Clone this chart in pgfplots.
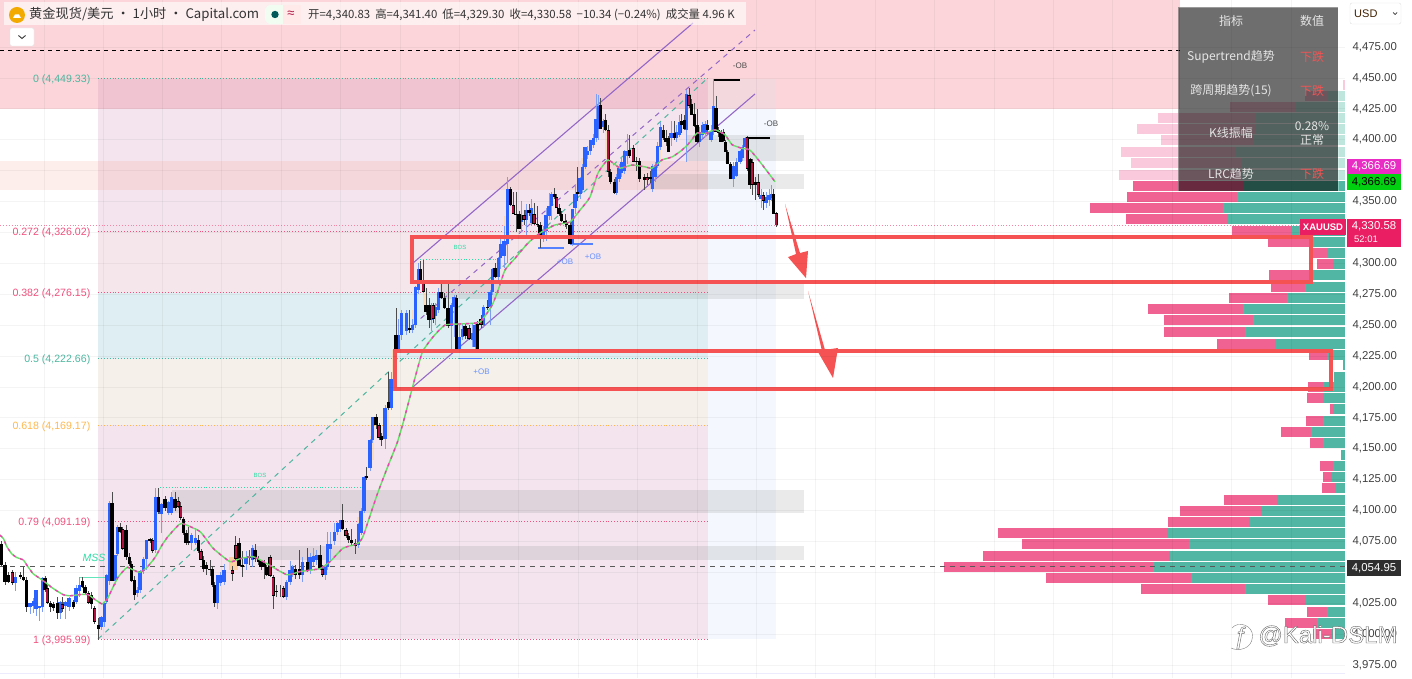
\documentclass[border=0pt]{standalone}
\usepackage{pgfplots}
\usepackage{pgfplotstable}
\usepackage{fontspec}
\pgfplotsset{compat=1.18}
\setmainfont{Liberation Sans}
\newfontfamily\cjk{Noto Sans CJK SC}
\newcommand\fs[1]{\fontsize{#1}{#1}\selectfont}
\definecolor{cBlue}{HTML}{2962FF}
\definecolor{cBlueW}{HTML}{7E9DF5}
\definecolor{cCrim}{HTML}{B0103F}
\definecolor{cTeal}{HTML}{52B6A4}
\definecolor{cPink}{HTML}{F06292}
\definecolor{cTealP}{HTML}{BFE6DD}
\definecolor{cPinkP}{HTML}{FAC9DC}
\definecolor{cRed}{HTML}{F55353}
\definecolor{cPur}{HTML}{9467C8}
\definecolor{fTeal}{HTML}{4DB6A0}
\definecolor{fPink}{HTML}{F0517E}
\definecolor{fOr}{HTML}{FFB74D}
\definecolor{cMint}{HTML}{2FDCA5}
\definecolor{zTop}{HTML}{FBD5D9}
\definecolor{zTopF}{HTML}{F0C4D0}
\definecolor{zTopR}{HTML}{F3D8DE}
\definecolor{zOrL}{HTML}{FEEEEB}
\definecolor{zOrF}{HTML}{F4D7DA}
\definecolor{zLav}{HTML}{F3E4EE}
\definecolor{zLav2}{HTML}{F5E6EC}
\definecolor{zCy}{HTML}{DFEEF2}
\definecolor{zCr}{HTML}{F5F1EA}
\definecolor{zBl}{HTML}{F4F8FE}
\definecolor{zTan}{HTML}{F9DDBD}
\definecolor{zOrB}{HTML}{FBCF9E}
\definecolor{tagMag}{HTML}{E82CC4}
\definecolor{tagRed}{HTML}{E91E63}
\definecolor{tagGrn}{HTML}{00D010}
\definecolor{maGrn}{HTML}{66E066}
\definecolor{maMag}{HTML}{F040B0}
\pgfplotstableread{
x o h l c
15.7 4041 4050 4035 4046
30 4022 4025 4016 4025
33.3 4023 4029 4017 4027
36 4020 4036 4015 4036
39.3 4021 4023 4011 4023
42.3 4022 4046 4018 4045
60 4017 4027 4012 4026
65 4023 4027 4012 4026
69 4022 4030 4019 4029
76 4026 4040 4024 4037
79.3 4035 4046 4030 4040
101 4006 4015 4003 4014
104.3 4010 4026 4006 4025
106.7 4026 4049 4024 4048
109.3 4043 4108 4040 4106
115 4043 4064 4040 4064
117.3 4065 4088 4063 4087
137.3 4033 4038 4030 4036
140 4036 4052 4033 4051
143.3 4051 4062 4049 4061
146.7 4061 4076 4052 4076
155.7 4068 4118 4066 4111
161 4097 4106 4082 4105
168.3 4098 4108 4096 4107
171.7 4098 4115 4096 4111
191.7 4074 4082 4068 4080
195.7 4074 4086 4072 4078
217.3 4025 4048 4020 4048
220.7 4041 4050 4039 4048
224 4042 4057 4040 4052
246 4057 4067 4052 4062
252.3 4060 4072 4054 4070
286.7 4030 4044 4028 4042
290 4042 4059 4040 4052
292.3 4048 4056 4046 4054
302.3 4048 4062 4042 4058
310 4052 4066 4049 4062
313.3 4058 4070 4055 4063
316.7 4060 4068 4056 4064
325 4048 4057 4044 4054
327.7 4054 4083 4052 4073
330.7 4069 4083 4060 4073
334.3 4075 4090 4072 4083
337.7 4083 4091 4080 4090
340.7 4085 4092 4083 4092
358.3 4072 4090 4070 4089
361 4082 4102 4080 4100
364 4100 4128 4098 4127
370 4134 4158 4132 4157
372.3 4157 4176 4155 4176
385 4158 4185 4150 4183
391 4183 4212 4181 4206
394.3 4206 4238 4204 4230
398.3 4230 4255 4228 4242
401.7 4242 4262 4238 4260
406.7 4245 4262 4242 4260
412.3 4246 4255 4244 4250
415.7 4250 4282 4248 4281
418.3 4278 4300 4275 4295
431 4254 4268 4245 4266
435.7 4257 4268 4250 4265
438.3 4262 4280 4260 4277
451.7 4249 4268 4231 4266
454 4265 4274 4240 4273
459.3 4231 4250 4229 4240
462.3 4240 4252 4238 4247
472.7 4238 4252 4232 4244
475 4232 4252 4230 4250
483.3 4250 4266 4248 4265
490 4265 4278 4250 4277
492.3 4277 4296 4274 4295
498.3 4289 4305 4286 4304
500.7 4304 4320 4295 4316
504 4306 4330 4296 4318
507.7 4316 4370 4300 4360
521 4333 4350 4325 4339
526 4335 4348 4320 4343
531.7 4333 4352 4330 4345
543.3 4322 4330 4317 4327
546 4326 4345 4318 4339
549 4338 4357 4335 4346
551.7 4346 4358 4335 4356
572.3 4316 4344 4314 4344
575 4345 4363 4340 4356
580 4356 4370 4352 4369
582.3 4359 4380 4357 4378
585 4378 4394 4376 4394
587.7 4388 4395 4384 4391
590.7 4391 4400 4388 4400
593.3 4396 4405 4393 4401
596 4401 4437 4398 4417
598.3 4409 4436 4400 4427
603.3 4410 4417 4405 4415
616.3 4357 4372 4355 4370
619 4368 4380 4366 4377
621.7 4373 4386 4370 4382
624.3 4375 4392 4372 4391
627 4387 4405 4380 4391
652.7 4360 4380 4358 4379
655 4370 4382 4366 4379
657.7 4379 4398 4377 4395
660.7 4394 4414 4392 4410
671 4401 4415 4395 4405
676.7 4401 4412 4398 4406
679.3 4404 4420 4402 4414
686.7 4408 4440 4382 4437
699.3 4398 4410 4394 4406
702.3 4404 4414 4401 4412
705 4405 4415 4402 4413
711 4400 4412 4398 4406
713.7 4406 4449 4404 4427
733.3 4368 4382 4362 4379
736.7 4371 4385 4370 4382
740 4382 4392 4380 4391
742.7 4385 4396 4383 4394
745 4394 4402 4392 4401
761 4352 4360 4345 4355
766 4349 4358 4345 4354
769 4351 4360 4346 4355
771.7 4353 4363 4350 4356
}\tabU
\pgfplotstableread{
x o h l c
1.7 4073 4075 4055 4056
5 4056 4058 4040 4042
8.3 4048 4050 4041 4042
20.7 4048 4050 4045 4046
23.3 4046 4054 4043 4044
26.7 4044 4046 4018 4022
45 4045 4047 4034 4036
50.7 4025 4027 4018 4022
53.3 4024 4026 4019 4021
57.3 4025 4030 4012 4017
73.3 4026 4028 4020 4022
82.7 4043 4046 4037 4038
85 4038 4040 4032 4033
91.7 4032 4034 4020 4024
98.3 4007 4013 3995 4004
112 4106 4115 4043 4043
120 4087 4090 4082 4083
126 4084 4088 4060 4062
129.3 4062 4066 4055 4057
131.7 4057 4059 4042 4043
134.3 4044 4047 4028 4032
150 4077 4078 4074 4075
158.3 4111 4118 4097 4099
165 4109 4112 4100 4102
175 4109 4115 4100 4102
183.3 4093 4095 4080 4082
186 4082 4084 4072 4074
188.3 4075 4087 4072 4074
198.3 4076 4080 4066 4067
203.7 4060 4063 4050 4053
206.7 4056 4058 4048 4053
210 4053 4060 4047 4052
212.3 4053 4055 4038 4040
214.3 4040 4042 4022 4025
239 4074 4078 4055 4055
242.7 4056 4067 4046 4055
249 4063 4068 4056 4062
255 4068 4073 4058 4061
258.3 4061 4063 4056 4058
261 4059 4060 4052 4054
264.3 4058 4060 4045 4054
266.7 4054 4056 4047 4048
276.7 4035 4040 4030 4034
280 4036 4040 4030 4036
295.7 4053 4056 4045 4048
299.3 4053 4068 4045 4048
307.3 4058 4070 4050 4051
320 4064 4072 4052 4053
342.7 4092 4105 4084 4085
348.3 4079 4082 4074 4076
351.7 4076 4085 4072 4074
355.3 4074 4077 4065 4071
366.7 4128 4135 4125 4127
376 4176 4178 4166 4169
381.7 4160 4163 4152 4157
388.7 4188 4212 4181 4183
396 4242 4264 4230 4231
409.3 4248 4262 4244 4246
420.7 4295 4302 4283 4285
426 4266 4280 4258 4261
429 4266 4272 4248 4254
441 4277 4284 4271 4272
444.3 4272 4276 4263 4264
448 4264 4283 4248 4249
456.3 4272 4274 4231 4231
465 4249 4252 4239 4241
477.7 4251 4253 4231 4231
487.3 4265 4270 4262 4264
495 4296 4300 4288 4289
510.3 4360 4362 4346 4347
516 4340 4358 4325 4339
519 4340 4342 4328 4328
529 4343 4348 4338 4341
537.3 4332 4346 4329 4331
540 4331 4333 4312 4320
554.3 4356 4361 4352 4354
559 4345 4348 4338 4340
561.7 4340 4342 4333 4334
565 4334 4340 4329 4333
566.7 4333 4335 4328 4331
570 4331 4333 4316 4316
577.3 4358 4378 4350 4356
600.3 4428 4434 4409 4409
605.7 4416 4421 4407 4408
610.7 4374 4376 4364 4366
614.3 4366 4368 4356 4357
629.3 4392 4404 4385 4387
636.7 4383 4386 4375 4382
639.3 4383 4385 4366 4368
644.3 4370 4372 4359 4367
650 4370 4375 4365 4368
663.3 4408 4412 4400 4401
666 4401 4408 4395 4398
668.3 4401 4403 4390 4390
674.3 4405 4415 4400 4401
681.7 4415 4421 4405 4412
684.3 4416 4420 4408 4409
691.7 4429 4433 4420 4420
694.3 4421 4430 4410 4411
697 4412 4425 4397 4398
707.3 4412 4416 4405 4408
716 4426 4435 4406 4406
718.3 4408 4410 4402 4405
721 4406 4408 4398 4398
723.3 4406 4409 4398 4399
725.7 4398 4400 4390 4390
727.7 4390 4392 4380 4380
730.7 4380 4382 4368 4368
750 4384 4385 4360 4363
755 4366 4370 4351 4363
773.3 4356 4360 4340 4340
}\tabD
\pgfplotstableread{
x o h l c
12.3 4050 4052 4040 4041
47.3 4037 4040 4024 4025
62.3 4024 4030 4018 4020
88.3 4033 4035 4024 4025
94.7 4021 4023 4008 4010
122.7 4085 4087 4068 4069
152.7 4076 4078 4066 4067
178.3 4108 4111 4102 4103
180.7 4104 4107 4092 4094
201 4067 4069 4060 4060
232.3 4052 4055 4043 4049
235.7 4072 4079 4060 4061
270 4062 4064 4046 4047
273.3 4046 4048 4020 4031
283.3 4037 4039 4029 4030
322.3 4053 4056 4046 4048
346 4084 4086 4078 4079
379 4169 4171 4157 4159
423.3 4285 4303 4277 4277
433.3 4266 4268 4252 4255
469 4248 4250 4238 4239
481 4255 4258 4248 4250
513.3 4347 4358 4340 4340
524 4339 4343 4331 4335
534 4340 4349 4331 4332
556.7 4354 4356 4345 4345
608.3 4408 4412 4370 4374
633.3 4393 4396 4382 4382
647.3 4370 4373 4363 4367
689 4436 4442 4426 4427
747.3 4402 4403 4375 4376
752.3 4382 4384 4355 4363
758.3 4366 4372 4354 4355
763.3 4355 4358 4343 4350
776.3 4340.83 4341.40 4329.30 4330.58
}\tabC
\pgfplotstableread{
x p
0 4080
3.3 4077.5
6.7 4071
11.7 4065
16.7 4062
23.3 4060
26.7 4056
33 4049
40 4045
46.7 4041
53 4037
63 4032
70 4031
80 4032
88 4032
95 4028
102 4024.5
107 4028
113 4038
118 4046
127 4054
133 4052
140 4050
147 4054
155 4062
162 4072
168 4079
177 4087
182 4089.6
200 4083
213 4069.5
230 4058.6
240 4061
253 4062.7
267 4057
287 4048
300 4050.6
320 4053
330 4058.6
343 4069.5
357 4073
363 4079
377 4112.6
387 4134
397 4154.4
403 4170.6
410 4192
422 4227.4
433 4240.4
445 4250
462 4251
480 4252.5
492 4266
498 4278
505 4294.6
515 4304
528 4316.4
540 4324.5
555 4331
570 4333.4
580 4343
590 4353.6
598 4373
608 4383.6
620 4377
632 4379.5
645 4378
652 4377
662 4383.6
672 4386
682 4391.6
690 4398
697 4405.4
705 4405
715 4408
725 4404
732 4396
742 4393
750 4391.6
760 4382
775 4366
}\tabMA
\pgfplotstableread{
y p t
4362.5 1132.7 1244
4353.6 1127.3 1236.7
4344.7 1090 1222.7
4335.8 1125.7 1227.7
4326.1 1231.7 1291
4317.2 1267.7 1311.7
4308.3 1313 1327.7
4299.4 1316.7 1334
4290.5 1269.3 1311.7
4281 1270.7 1305
4272.2 1229 1286.7
4263 1148.3 1243.3
4254.1 1164.3 1253.3
4244.4 1164.3 1245
4234.7 1216.7 1276
4225.8 1309 1327
4217.5 1342.7 1342.7
4208.2 1334 1334
4199.9 1308 1322.7
4191 1306.7 1324
4182.1 1330 1334
4172.4 1305.7 1322.7
4163.5 1280.7 1311
4154.6 1310 1322.7
4145.1 1340.7 1340.7
4136.3 1320 1332.7
4127.1 1322.7 1331.7
4118 1321.7 1336
4108.7 1224 1278.3
4099.8 1179.7 1261.7
4090.7 1168 1250
4081.6 998 1168
4072.7 1022 1188.7
4063.4 982.7 1169.7
4054.5 944 1153
4045.4 1045.7 1191.3
4036.5 1141 1245.3
4027.4 1267.7 1305.7
4018.1 1306.7 1327.3
4009.2 1285 1317.3
4000.1 1313 1331.7
}\tabVol
\pgfplotstableread{
y p t
4444.2 1343.3 1345
4435.3 1305 1328.3
4426.2 1230 1295
4417.3 1158.3 1255
4408.4 1136.7 1255
4399.7 1160.7 1253.3
4390 1121 1235
4381.1 1131 1241.7
4371.4 1119 1241.7
}\tabVolP
\pgfplotstableread{
x a b
358.5 4082 4095
372 4141 4160
387.5 4160 4184
393.5 4203 4230
414 4251 4262
425 4266 4276
505.7 4327 4338
583 4367 4385
606.7 4384 4408
639 4370 4378
659 4382 4396
726.7 4381 4389
773.3 4340 4348
}\tabTan
\newcommand\zone[5]{\addplot[#5,draw=none,forget plot] coordinates {(#1,#2)(#3,#2)(#3,#4)(#1,#4)} -- cycle;}
\newcommand\hl[5]{\addplot[#5,forget plot] coordinates {(#1,#2)(#3,#4)};}
\newcommand\candles[3]{%
\addplot[draw=none,forget plot,error bars/.cd,y dir=both,y explicit,error mark=none,error bar style={draw=#3,solid,line width=1pt}] table[x=x,y expr=(\thisrow{h}+\thisrow{l})/2,y error expr=(\thisrow{h}-\thisrow{l})/2]{#1};
\addplot[draw=none,forget plot,error bars/.cd,y dir=both,y explicit,error mark=none,error bar style={draw=#2,solid,line width=3.1pt}] table[x=x,y expr=(\thisrow{o}+\thisrow{c})/2,y error expr=abs(\thisrow{o}-\thisrow{c})/2]{#1};
}
\newcommand\vol[3]{%
\addplot[draw=none,forget plot,error bars/.cd,x dir=minus,x explicit,error mark=none,error bar style={draw=#2,solid,line width=10pt}] table[x expr=1345,y=y,x error expr=1345-\thisrow{p}]{#1};
\addplot[draw=none,forget plot,error bars/.cd,x dir=minus,x explicit,error mark=none,error bar style={draw=#3,solid,line width=10pt}] table[x expr=1345,y=y,x error expr=1345-\thisrow{t}]{#1};
}
\newcommand\fiblab[3]{\node[anchor=east,text=#3,font=\fs{10.6},inner sep=0pt,yshift=-1.3pt] at (axis cs:90.5,#1) {#2};}
\begin{document}
\begin{tikzpicture}
\useasboundingbox (0,0) rectangle (1412pt,678pt);
\begin{axis}[at={(0,0)},anchor=south west,scale only axis,width=1345pt,height=678pt,
 xmin=0,xmax=1345,ymin=3964.5,ymax=4513,clip=false,axis on top,
 axis line style={draw=none},tick style={draw=none},
 ytick={3975,4000,4025,4075,4100,4125,4150,4175,4200,4225,4250,4275,4300,4350,4400,4425,4450,4475},ytick pos=right,yticklabel pos=right,
 extra y ticks={4050,4325,4375},extra y tick labels={},extra y tick style={grid=major},
 xtick={44.2,103,162.4,221.8,281.2,340.6,400,459.4,518.8,578.2,637.6,697,756.4,815.8,875.2,934.6,994,1053.4,1112.8,1172.2,1231.6,1291},
 xticklabels={},grid=major,grid style={draw=black,opacity=.045,line width=.7pt},
 yticklabel style={font=\fs{11.4},text=black!75,xshift=4pt,/pgf/number format/.cd,assume math mode=true,fixed,fixed zerofill,precision=2,1000 sep={,}},
 ]
% background zones
\zone{0}{4513}{1180}{4424.8}{fill=zTop}
\zone{0}{4382.7}{98}{4359.3}{fill=zOrL}
\zone{708}{4449.3}{776}{4424.8}{fill=zTopR}
\zone{708}{4424.8}{776}{3995.99}{fill=zBl}
\zone{98}{4449.33}{708}{4424.8}{fill=zTopF}
\zone{98}{4424.8}{708}{4382.7}{fill=zLav}
\zone{98}{4382.7}{708}{4359.3}{fill=zOrF}
\zone{98}{4359.3}{708}{4326.02}{fill=zLav}
\zone{98}{4326.02}{708}{4276.15}{fill=zLav2}
\zone{98}{4276.15}{708}{4222.66}{fill=zCy}
\zone{98}{4222.66}{708}{4169.17}{fill=zCr}
\zone{98}{4169.17}{708}{3995.99}{fill=zLav}
\zone{687}{4403.8}{804}{4382.8}{fill=gray,fill opacity=.17}
\zone{650}{4372.2}{804}{4360}{fill=gray,fill opacity=.17}
\zone{440}{4284}{804}{4271}{fill=gray,fill opacity=.17}
\zone{172}{4116.6}{804}{4098}{fill=gray,fill opacity=.17}
\zone{253}{4071.3}{804}{4060}{fill=gray,fill opacity=.17}
% volume profile
\vol{\tabVol}{cPink}{cTeal}
\vol{\tabVolP}{cPinkP}{cTealP}
% horizontal levels
\hl{0}{4472.5}{1180}{4472.5}{black,line width=.9pt,dash pattern=on 4pt off 4pt}
\hl{98}{4449.33}{708}{4449.33}{fTeal,dotted,line width=.9pt}
\hl{98}{4326.02}{708}{4326.02}{fPink,dotted,line width=.9pt}
\hl{0}{4330.58}{1300}{4330.58}{fPink!70,dotted,line width=.9pt}
\hl{98}{4276.15}{708}{4276.15}{fPink,dotted,line width=.9pt}
\hl{98}{4222.66}{708}{4222.66}{fTeal,dotted,line width=.9pt}
\hl{98}{4169.17}{708}{4169.17}{fOr,dotted,line width=.9pt}
\hl{98}{4091.19}{708}{4091.19}{fPink,dotted,line width=.9pt}
\hl{98}{3995.99}{708}{3995.99}{fPink,dotted,line width=.9pt}
\hl{0}{4054.95}{1345}{4054.95}{black!65,line width=.9pt,dash pattern=on 5pt off 5pt}
\hl{0}{3968.5}{1345}{3968.5}{black!10!blue!8,line width=1pt}
% trend lines
\hl{98}{3995.99}{707}{4449.33}{fTeal,line width=1pt,dash pattern=on 5pt off 5pt}
\hl{413}{4300.2}{693}{4494.4}{cPur,line width=1.1pt}
\hl{413}{4200}{755}{4437}{cPur,line width=1.1pt}
\hl{413}{4250}{755}{4488.7}{cPur,line width=1pt,dash pattern=on 5pt off 5pt}
% structure lines
\hl{160}{4119}{362}{4119}{cMint,dotted,line width=.9pt}
\hl{420}{4303.5}{497}{4303.5}{cMint,dotted,line width=.9pt}
\hl{80}{4046}{107}{4046}{cMint!75,line width=1pt}
\hl{714}{4448.3}{740}{4448.3}{black,line width=1.2pt}
\hl{747}{4401.4}{770}{4401.4}{black,line width=1.2pt}
\hl{459}{4223}{482}{4223}{cBlue!80,line width=1.2pt}
\hl{538}{4312.4}{564}{4312.4}{cBlue!80,line width=1.2pt}
\hl{570}{4315.6}{593}{4315.6}{cBlue!80,line width=1.2pt}
% tan imbalance patches
\addplot[draw=none,forget plot,error bars/.cd,y dir=both,y explicit,error mark=none,error bar style={draw=zTan,solid,line width=3.5pt}] table[x=x,y expr=(\thisrow{a}+\thisrow{b})/2,y error expr=(\thisrow{b}-\thisrow{a})/2]{\tabTan};
\zone{229}{4062}{238}{4052}{fill=zOrB}
% candles
\candles{\tabU}{cBlue}{cBlueW}
\candles{\tabD}{black}{black!70}
\candles{\tabC}{black}{black!70}
\addplot[draw=none,forget plot,error bars/.cd,y dir=both,y explicit,error mark=none,error bar style={draw=cCrim,solid,line width=1.7pt}] table[x=x,y expr=(\thisrow{o}+\thisrow{c})/2,y error expr=abs(\thisrow{o}-\thisrow{c})/2-.8]{\tabC};
% moving average
\addplot[smooth,tension=.3,forget plot,color=maGrn,line width=1.4pt] table[x=x,y=p]{\tabMA};
\addplot[smooth,tension=.3,forget plot,color=maMag,line width=1.4pt,dash pattern=on 3pt off 5pt] table[x=x,y=p]{\tabMA};
% red boxes
\addplot[cRed,line width=3.4pt,forget plot] coordinates {(412,4321.3)(1311,4321.3)(1311,4284.9)(412,4284.9)} -- cycle;
\addplot[cRed,line width=3.4pt,forget plot] coordinates {(395,4229)(1331,4229)(1331,4198.3)(395,4198.3)} -- cycle;
\addplot[fill=cRed,draw=none,forget plot] coordinates {(785,4348)(800,4308.3)(808,4310)(806,4288)(788,4305)(796,4307.5)} -- cycle;
\addplot[fill=cRed,draw=none,forget plot] coordinates {(808,4277.6)(825,4229.9)(838,4231.5)(833,4207.2)(818,4228.2)(822,4229)} -- cycle;
% fib labels and marks
\fiblab{4449.33}{0 (4,449.33)}{fTeal}
\fiblab{4326.02}{0.272 (4,326.02)}{fPink}
\fiblab{4276.15}{0.382 (4,276.15)}{fPink}
\fiblab{4222.66}{0.5 (4,222.66)}{fTeal}
\fiblab{4169.17}{0.618 (4,169.17)}{fOr}
\fiblab{4091.19}{0.79 (4,091.19)}{fPink}
\fiblab{3995.99}{1 (3,995.99)}{fPink}
\node[text=cMint,font={\itshape\fs{10.5}}] at (axis cs:94,4062) {MSS};
\node[text=cMint,font=\fs{6}] at (axis cs:260,4128.5) {BOS};
\node[text=cMint,font=\fs{6}] at (axis cs:460,4312.5) {BOS};
\node[text=black!70,font=\fs{8}] at (axis cs:740,4459.5) {-OB};
\node[text=black!70,font=\fs{8}] at (axis cs:771,4412.5) {-OB};
\node[text=cBlue!70,font=\fs{8}] at (axis cs:481.5,4212) {+OB};
\node[text=cBlue!70,font=\fs{8}] at (axis cs:565,4301) {+OB};
\node[text=cBlue!70,font=\fs{8}] at (axis cs:593,4305) {+OB};
\end{axis}
\begin{scope}[x=1pt,y=-1pt,shift={(0,678pt)}]
% header
\fill[white,opacity=.6] (4,2) rectangle (746,25);
\fill[orange!60!yellow!95!black] (17,15) circle (8);
\fill[white] (13,18) -- (15,14.5) -- (19,14.5) -- (21,18) -- cycle;
\node[anchor=west,inner sep=0,font={\cjk\fs{13.2}},text=black!80] at (29,14.5) {黄金现货/美元 · 1小时 · Capital.com};
\fill[black!12!green!5!white,rounded corners=6pt] (265,5) rectangle (301,24);
\fill[pink!35] (283,5) rectangle (301,24);
\fill[teal!70!black] (275,14.5) circle (3.7);
\node[text=cCrim,font=\fs{13}] at (291,14) {≈};
\node[anchor=west,inner sep=0,font={\cjk\fs{11.4}},text=black!80] at (308,14.5) {开=4,340.83 \ 高=4,341.40 \ 低=4,329.30 \ 收=4,330.58 \ −10.34 (−0.24\%) \ 成交量 {4.96} K};
\filldraw[fill=white,draw=black!10,rounded corners=1.5pt] (10,28) rectangle (34,46);
\draw[black!80,line width=.9pt] (18.5,35.5) -- (22,38.5) -- (25.5,35.5);
% panel
\fill[black,opacity=.57] (1178,7) rectangle (1338,191);
\draw[white,opacity=.3] (1178,7) rectangle (1338,191);
\begin{scope}[every node/.style={font={\cjk\fs{12}},text=white!90!black}]
\node at (1231,21) {指标};
\node at (1312,21) {数值};
\node at (1231,56.5) {Supertrend趋势};
\node at (1231,91) {跨周期趋势(15)};
\node at (1231,133) {K线振幅};
\node at (1312,126.5) {0.28\%};
\node at (1312,140) {正常};
\node at (1231,174) {LRC趋势};
\node[text=cRed] at (1312,56.5) {下跌};
\node[text=cRed] at (1312,91) {下跌};
\node[text=cRed] at (1312,174) {下跌};
\end{scope}
% price axis tags
\filldraw[fill=white,draw=black!12,rounded corners=2pt] (1350,3) rectangle (1401,24);
\node[anchor=west,inner sep=0,font=\fs{11},text=black!75!orange] at (1354,13.5) {USD};
\draw[black!80,line width=.7pt] (1393,12.5) -- (1395,14.5) -- (1397,12.5);
\fill[tagMag] (1347,159) rectangle (1401,174.5);
\node[font=\fs{11.4},text=white] at (1374,166.5) {4,366.69};
\fill[tagGrn] (1347,174.5) rectangle (1401,190);
\node[font=\fs{11.4},text=black] at (1374,182) {4,366.69};
\fill[tagRed] (1300,219) rectangle (1346,235);
\node[font={\bfseries\fs{9.5}},text=white] at (1323,227) {XAUUSD};
\fill[tagRed] (1347,219) rectangle (1401,247);
\node[font=\fs{11.4},text=white] at (1374,226.5) {4,330.58};
\node[font=\fs{9.5},text=white!85!pink] at (1366,239) {52:01};
\fill[black!82] (1347,560) rectangle (1401,576);
\node[font=\fs{11.4},text=white] at (1374,568) {4,054.95};
% watermark
\draw[white,line width=1.8pt] (1233,629) .. controls (1238,622) and (1252,626) .. (1251,637) .. controls (1250,648) and (1238,650) .. (1232,647);
\draw[black!50,line width=.4pt] (1232,628) .. controls (1238,620.5) and (1253.5,625) .. (1252.5,637) .. controls (1251.5,649.5) and (1238,651.5) .. (1231,648);
\node[font={\itshape\fs{24}},text=white] at (1240,638) {\special{pdf:code 2 Tr 0.4 w 0.4 0.4 0.4 RG 1 1 1 rg}ƒ\special{pdf:code 0 Tr}};
\node[font=\fs{24}] at (1328,636) {\special{pdf:code 2 Tr 0.4 w 0.4 0.4 0.4 RG 1 1 1 rg}@Kali-DSLM\special{pdf:code 0 Tr}};
\end{scope}
\end{tikzpicture}
\end{document}
